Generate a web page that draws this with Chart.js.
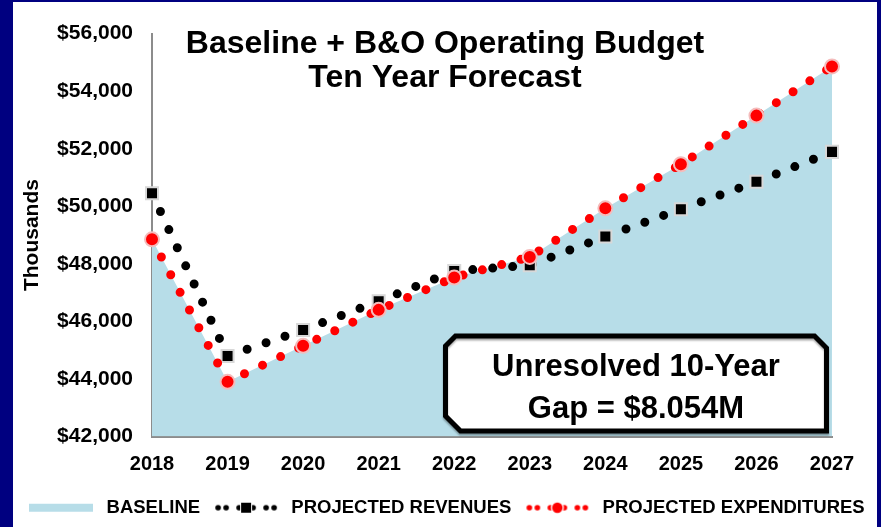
<!DOCTYPE html>
<html>
<head>
<meta charset="utf-8">
<script src="https://cdn.jsdelivr.net/npm/chart.js@4.4.0/dist/chart.umd.min.js"></script>
<style>
  html, body { margin: 0; padding: 0; width: 881px; height: 527px; overflow: hidden; background: #000080; }
  .card { position: absolute; left: 13px; top: 2px; width: 864px; height: 525px; background: #fff; overflow: hidden; }
  canvas { display: block; }
</style>
</head>
<body>
<div class="card"><canvas id="budgetChart" width="864" height="525"></canvas></div>
<script>
// data (thousands of dollars)
const years = ["2018", "2019", "2020", "2021", "2022", "2023", "2024", "2025", "2026", "2027"];
const baseline = [48850, 43900, 45150, 46400, 47525, 48240, 49930, 51460, 53150, 54860];
const revenues = [50450, 44800, 45700, 46700, 47750, 47950, 48950, 49900, 50850, 51890];
const expenditures = [48850, 43900, 45150, 46400, 47525, 48240, 49930, 51460, 53150, 54860];

const yMin = 42000;
const yMax = 56000;
const yStep = 2000;

const legendNames = ["BASELINE", "PROJECTED REVENUES", "PROJECTED EXPENDITURES"];
const titleLines = ["Baseline + B&O Operating Budget", "Ten Year Forecast"];
const gapLines = ["Unresolved 10-Year", "Gap = $8.054M"];

// colors
const baselineColor = "#b7dde8";
const revenueColor = "#000000";
const expenseColor = "#ff0000";
const axisColor = "#8c8c8c";
const fontFamily = "'Liberation Sans', Arial, sans-serif";

// little pictures for the legend, same look as the series
function legendIcon(kind) {
    const c = document.createElement("canvas");
    c.width = 64;
    c.height = 16;
    const g = c.getContext("2d");
    if (kind === "area") {
        g.fillStyle = baselineColor;
        g.fillRect(0, 4, 64, 8);
        return c;
    }
    const color = kind === "rev" ? revenueColor : expenseColor;
    g.fillStyle = color;
    [4, 12, 25, 39, 52, 60].forEach(function (x) {
        g.beginPath();
        g.arc(x, 8, 2.8, 0, Math.PI * 2);
        g.fill();
    });
    if (kind === "rev") {
        g.fillStyle = "#fff";
        g.fillRect(26, 2, 12, 12);
        g.fillStyle = color;
        g.fillRect(27, 3, 10, 10);
    } else {
        g.fillStyle = "#fff";
        g.beginPath();
        g.arc(32, 8, 6.5, 0, Math.PI * 2);
        g.fill();
        g.fillStyle = color;
        g.beginPath();
        g.arc(32, 8, 5.2, 0, Math.PI * 2);
        g.fill();
    }
    return c;
}

const legendIcons = [legendIcon("area"), legendIcon("rev"), legendIcon("exp")];

// title + gap call-out drawn on the canvas
const overlayText = {
    id: "overlayText",
    beforeDatasetsDraw(chart) {
        const ctx = chart.ctx;
        ctx.save();
        ctx.fillStyle = "#000";
        ctx.font = "bold 32px " + fontFamily;
        ctx.textAlign = "center";
        ctx.textBaseline = "alphabetic";
        ctx.fillText(titleLines[0], chart.width / 2, 51);
        ctx.fillText(titleLines[1], chart.width / 2, 85);
        ctx.restore();
    },
    afterDatasetsDraw(chart) {
        const ctx = chart.ctx;
        const area = chart.chartArea;
        const lw = 5;
        const outerR = area.right - 3;
        const outerB = area.bottom - 3;
        const outerL = outerR - 386;
        const outerT = outerB - 100;
        const l = outerL + lw / 2, r = outerR - lw / 2, t = outerT + lw / 2, b = outerB - lw / 2;

        ctx.save();
        ctx.beginPath();
        ctx.moveTo(l + 10, t);
        ctx.lineTo(r - 12, t);
        ctx.lineTo(r, t + 12);
        ctx.lineTo(r, b);
        ctx.lineTo(l + 15, b);
        ctx.lineTo(l, b - 15);
        ctx.lineTo(l, t + 10);
        ctx.closePath();
        ctx.fillStyle = "#fff";
        ctx.fill();
        ctx.shadowColor = "rgba(0,0,0,0.35)";
        ctx.shadowOffsetY = 2;
        ctx.shadowBlur = 2;
        ctx.lineWidth = lw;
        ctx.lineJoin = "miter";
        ctx.strokeStyle = "#000";
        ctx.stroke();
        ctx.shadowColor = "transparent";

        ctx.fillStyle = "#000";
        ctx.font = "bold 31px " + fontFamily;
        ctx.textAlign = "center";
        ctx.textBaseline = "alphabetic";
        const cx = (outerL + outerR) / 2;
        ctx.fillText(gapLines[0], cx, outerT + 42);
        ctx.fillText(gapLines[1], cx, outerT + 84);
        ctx.restore();
    }
};

const ctx = document.getElementById("budgetChart");

const data = {
    labels: years,
    datasets: [
        {
            label: legendNames[0],
            data: baseline,
            backgroundColor: baselineColor,
            borderColor: baselineColor,
            borderWidth: 0,
            fill: "start",
            pointRadius: 0,
            tension: 0,
            order: 3
        },
        {
            label: legendNames[1],
            data: revenues,
            borderColor: revenueColor,
            borderWidth: 9,
            borderDash: [0, 20],
            borderCapStyle: "round",
            fill: false,
            tension: 0,
            pointStyle: "rect",
            pointRadius: 8.5,
            pointBackgroundColor: revenueColor,
            pointBorderColor: "#d8d8d8",
            pointBorderWidth: 2,
            clip: false,
            order: 2
        },
        {
            label: legendNames[2],
            data: expenditures,
            borderColor: expenseColor,
            borderWidth: 9,
            borderDash: [0, 20],
            borderCapStyle: "round",
            fill: false,
            tension: 0,
            pointStyle: "circle",
            pointRadius: 7,
            pointBackgroundColor: expenseColor,
            pointBorderColor: "#f4bcbc",
            pointBorderWidth: 2,
            clip: false,
            order: 1
        }
    ]
};

new Chart(ctx, {
    type: "line",
    data: data,
    plugins: [overlayText],
    options: {
        responsive: false,
        animation: false,
        devicePixelRatio: 1,
        layout: {
            padding: { top: 21, left: 0, right: 0, bottom: 0 }
        },
        scales: {
            x: {
                type: "category",
                offset: false,
                grid: { display: false, drawTicks: false },
                border: { display: true, color: axisColor, width: 2 },
                ticks: {
                    color: "#000",
                    font: { family: fontFamily, size: 20, weight: "bold" },
                    padding: 16,
                    maxRotation: 0,
                    autoSkip: false
                },
                afterFit(scale) {
                    scale.height = 52;
                }
            },
            y: {
                min: yMin,
                max: yMax,
                grid: { display: false, drawTicks: false },
                border: { display: true, color: axisColor, width: 2 },
                ticks: {
                    stepSize: yStep,
                    color: "#000",
                    font: { family: fontFamily, size: 21, weight: "bold" },
                    padding: 19,
                    callback: function (v) {
                        return "$" + Number(v).toLocaleString("en-US");
                    }
                },
                title: {
                    display: true,
                    text: "Thousands",
                    color: "#000",
                    font: { family: fontFamily, size: 21, weight: "bold" },
                    padding: { top: 7, bottom: 0 }
                },
                afterFit(scale) {
                    scale.width = 139;
                }
            },
            yRight: {
                position: "right",
                display: true,
                grid: { display: false, drawTicks: false },
                border: { display: false },
                ticks: { display: false },
                afterFit(scale) {
                    scale.width = 45;
                }
            }
        },
        plugins: {
            tooltip: { enabled: false },
            legend: {
                display: true,
                position: "bottom",
                labels: {
                    usePointStyle: true,
                    pointStyleWidth: 72,
                    padding: 10,
                    color: "#000",
                    font: { family: fontFamily, size: 18.5, weight: "bold" },
                    generateLabels: function () {
                        return legendNames.map(function (name, i) {
                            return {
                                text: name,
                                pointStyle: legendIcons[i],
                                fillStyle: "transparent",
                                strokeStyle: "transparent",
                                lineWidth: 0,
                                hidden: false,
                                datasetIndex: i
                            };
                        });
                    }
                }
            }
        }
    }
});
</script>
</body>
</html>
